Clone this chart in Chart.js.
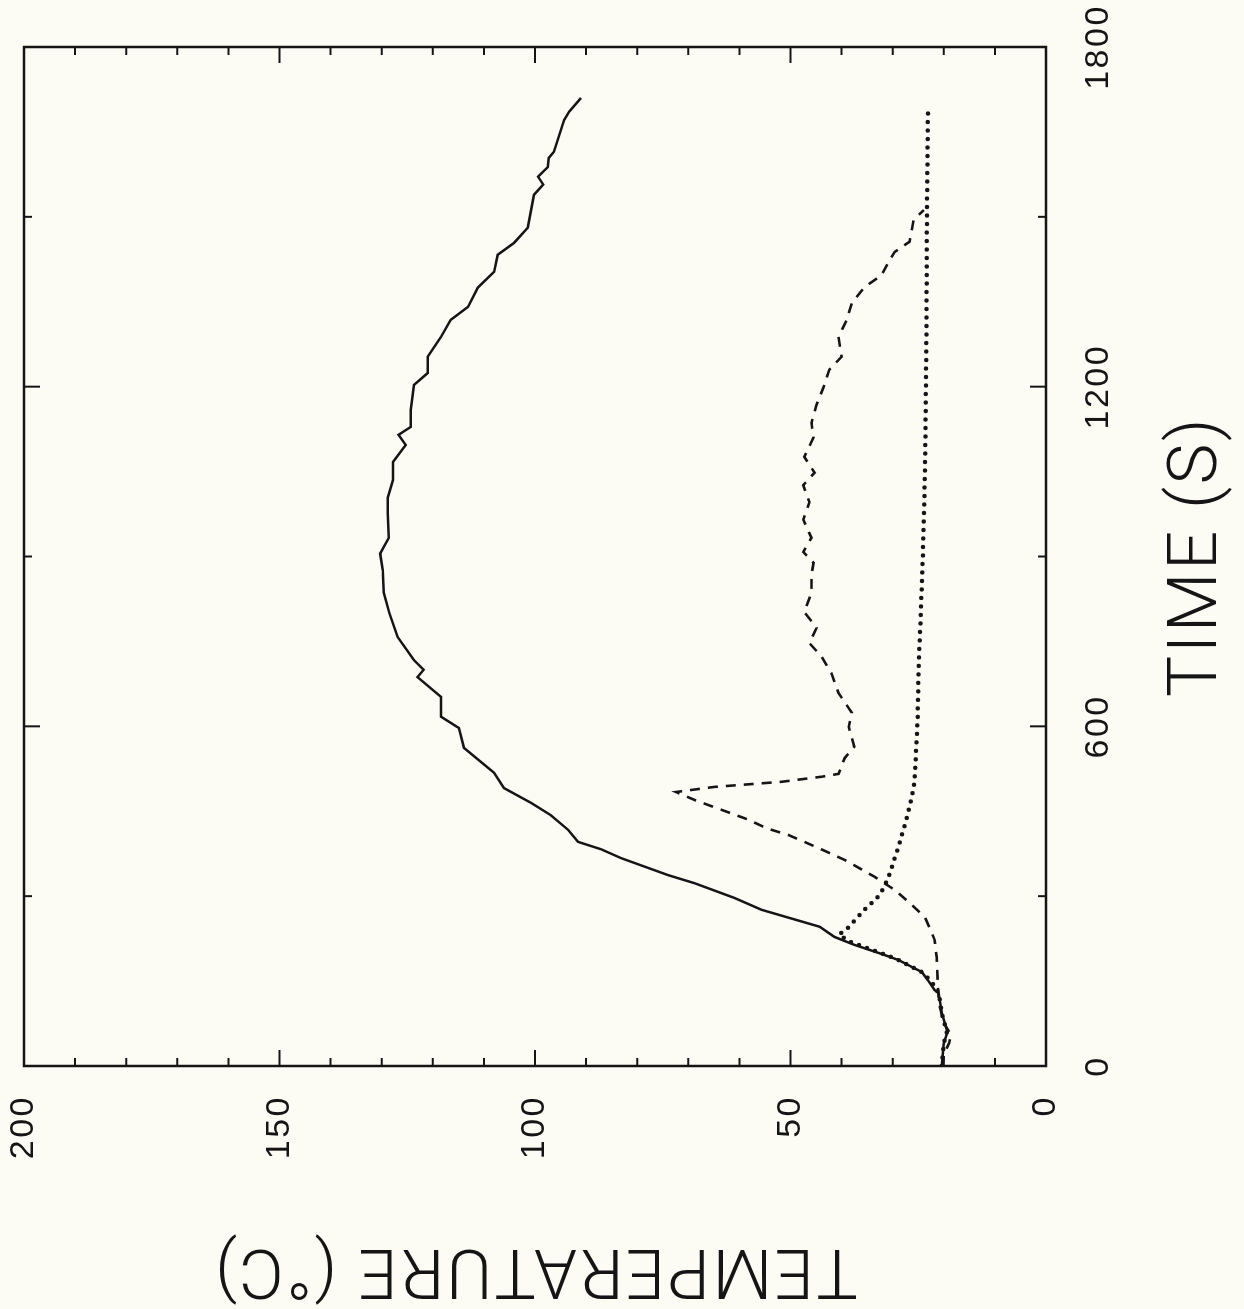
<!DOCTYPE html>
<html>
<head>
<meta charset="utf-8">
<title>Temperature vs time</title>
<script src="https://cdn.jsdelivr.net/npm/chart.js@4.4.1/dist/chart.umd.min.js"></script>
<style>
  html, body { margin: 0; padding: 0; background: #fcfcf5; overflow: hidden; }
  /* the plot is drawn upright and then turned a quarter turn to the left, like the scan */
  #wrap { position: absolute; left: 0; top: 0; width: 1309px; height: 1244px;
          transform-origin: 0 0; transform: translate(0, 1309px) rotate(-90deg); }
</style>
</head>
<body>
<div id="wrap"><canvas id="chart" width="1309" height="1244"></canvas></div>
<script>
// values: time in s, temperature in deg C
var solidTime = [0, 40, 60, 94, 129, 134, 150, 166, 178, 187, 198, 214, 228, 246, 276, 297, 323, 337, 367, 383,
  396, 417, 443, 465, 491, 518, 562, 597, 617, 652, 687, 700, 717, 758, 800, 836, 876, 905, 933, 977,
  1004, 1035, 1067, 1097, 1115, 1129, 1159, 1203, 1224, 1253, 1288, 1318, 1341, 1375, 1403, 1433, 1454, 1481, 1539, 1557,
  1571, 1588, 1604, 1615, 1671, 1686, 1710];
var solidTemp = [20.4, 20.0, 19.3, 20.4, 21.0, 21.8, 23.0, 24.3, 26.9, 28.8, 32.2, 37.5, 41.4, 44.3, 55.7, 61.0, 68.8, 73.9, 83.1, 87.1,
  91.6, 93.5, 96.9, 100.8, 106.1, 108.0, 113.9, 114.9, 118.4, 118.4, 123.0, 121.8, 123.7, 126.9, 128.5, 129.6, 129.8, 130.3, 128.6, 128.8,
  128.8, 127.8, 127.8, 125.3, 126.7, 124.3, 124.3, 123.7, 121.0, 121.0, 118.4, 116.5, 113.1, 111.2, 108.0, 107.3, 104.1, 101.4, 100.2, 98.4,
  99.4, 97.5, 97.3, 96.3, 94.3, 93.3, 91.0];

var dashTime = [0, 20, 40, 55, 70, 90, 117, 150, 193, 223, 263, 290, 311, 334, 364, 385, 408, 420, 435, 470,
  484, 493, 502, 511, 516, 544, 564, 599, 624, 659, 694, 723, 747, 774, 802, 836, 867, 889, 908, 933,
  965, 996, 1026, 1048, 1076, 1110, 1136, 1168, 1200, 1230, 1253, 1288, 1318, 1348, 1376, 1397, 1420, 1438, 1456, 1495,
  1512];
var dashTemp = [20.2, 20.0, 19.0, 18.6, 19.6, 20.4, 21.0, 21.2, 21.4, 21.8, 23.7, 26.9, 29.6, 33.5, 39.4, 44.5, 50.4, 54.7, 58.2, 68.8,
  72.4, 64.9, 51.8, 43.9, 40.6, 39.4, 37.5, 38.6, 38.0, 40.6, 42.0, 43.9, 46.3, 44.9, 47.3, 45.9, 45.9, 45.5, 47.5, 45.9,
  47.5, 46.3, 47.5, 45.3, 47.3, 45.5, 45.9, 44.9, 43.5, 42.4, 40.0, 40.6, 39.0, 38.0, 35.5, 32.2, 30.8, 29.6, 26.7, 25.9,
  23.9];

var dotTime = [0, 40, 60, 94, 129, 150, 166, 178, 190, 205, 220, 232, 245, 272, 302, 334, 378, 426, 473, 505,
  560, 620, 712, 800, 900, 1000, 1100, 1300, 1500, 1693];
var dotTemp = [20.4, 20.0, 19.4, 20.4, 21.0, 22.5, 24.3, 26.9, 29.5, 34.0, 38.5, 40.5, 38.6, 36.0, 32.5, 30.8, 29.2, 27.6, 26.3, 25.7,
  25.4, 25.1, 24.9, 24.5, 24.1, 23.8, 23.6, 23.4, 23.3, 23.1];

// axes
var timeLabels = [0, 600, 1200, 1800];
var timeMarks = [0, 300, 600, 900, 1200, 1500, 1800];
var tempLabels = [0, 50, 100, 150, 200];
var tempMarks = [0, 10, 20, 30, 40, 50, 60, 70, 80, 90, 100, 110, 120, 130, 140, 150, 160, 170, 180, 190, 200];

function pairs(xs, ys) {
  return xs.map(function (v, i) { return { x: v, y: ys[i] }; });
}

var ink = '#151515';
var tickFont = { family: "'Liberation Sans Narrow', 'Liberation Sans', sans-serif", size: 34 };
var titleFont = { family: "Roboto, 'DejaVu Sans', sans-serif", size: 69, weight: '300' };

// the plotter lettering is a bit looser than the fonts we have
var spacing = {
  id: 'spacing',
  beforeDraw: function (chart) { chart.ctx.letterSpacing = '2.5px'; },
  afterDraw: function (chart) { chart.ctx.letterSpacing = '0px'; }
};

// box around the plot and the short inward tick marks on all four sides
var frame = {
  id: 'frame',
  afterDatasetsDraw: function (chart) {
    var c = chart.ctx, a = chart.chartArea, sx = chart.scales.x, sy = chart.scales.y;
    c.save();
    c.strokeStyle = ink;
    c.lineWidth = 2.5;
    c.strokeRect(a.left, a.top, a.right - a.left, a.bottom - a.top);
    c.lineWidth = 2;
    c.beginPath();
    timeMarks.forEach(function (t) {
      var px = sx.getPixelForValue(t);
      var len = timeLabels.indexOf(t) >= 0 ? 16 : 8;
      c.moveTo(px, a.bottom); c.lineTo(px, a.bottom - len);
      c.moveTo(px, a.top); c.lineTo(px, a.top + len);
    });
    tempMarks.forEach(function (v) {
      var py = sy.getPixelForValue(v);
      var len = tempLabels.indexOf(v) >= 0 ? 16 : 8;
      c.moveTo(a.left, py); c.lineTo(a.left + len, py);
      c.moveTo(a.right, py); c.lineTo(a.right - len, py);
    });
    c.stroke();
    c.restore();
  }
};

var ctx = document.getElementById('chart').getContext('2d');
var chart = new Chart(ctx, {
  type: 'scatter',
  data: {
    datasets: [{
      label: 'solid',
      data: pairs(solidTime, solidTemp),
      borderColor: ink,
      borderWidth: 2.5
    }, {
      label: 'dashed',
      data: pairs(dashTime, dashTemp),
      borderColor: ink,
      borderWidth: 2.6,
      borderDash: [10, 8]
    }, {
      label: 'dotted',
      data: pairs(dotTime, dotTemp),
      borderColor: ink,
      borderWidth: 4.5,
      borderDash: [0, 8.5],
      borderCapStyle: 'round'
    }]
  },
  options: {
    responsive: false,
    animation: false,
    devicePixelRatio: 1,
    showLine: true,
    elements: { point: { radius: 0 }, line: { tension: 0, fill: false } },
    layout: { padding: { top: 24, right: 47, bottom: 0, left: 0 } },
    plugins: { legend: { display: false }, tooltip: { enabled: false } },
    scales: {
      x: {
        type: 'linear', position: 'bottom', min: 0, max: 1800,
        afterBuildTicks: function (s) { s.ticks = timeLabels.map(function (v) { return { value: v }; }); },
        afterFit: function (s) { s.height = 198; s.paddingLeft = 0; s.paddingRight = 0; },
        grid: { display: false, drawTicks: false },
        border: { display: false },
        ticks: { padding: 32, color: ink, font: tickFont, maxRotation: 0, autoSkip: false,
                 callback: function (v) { return String(v); } },
        title: { display: true, text: 'TIME (S)', color: ink, font: titleFont, padding: { top: 0, bottom: 4 } }
      },
      y: {
        type: 'linear', position: 'left', min: 0, max: 200,
        afterBuildTicks: function (s) { s.ticks = tempLabels.map(function (v) { return { value: v }; }); },
        afterFit: function (s) { s.width = 243; s.paddingTop = 0; s.paddingBottom = 0; },
        grid: { display: false, drawTicks: false },
        border: { display: false },
        ticks: { padding: 29, color: ink, font: tickFont, autoSkip: false,
                 callback: function (v) { return String(v); } },
        title: { display: true, text: 'TEMPERATURE (°C)', color: ink, font: titleFont, padding: { top: 0, bottom: 0 } }
      }
    }
  },
  plugins: [spacing, frame]
});
</script>
</body>
</html>
